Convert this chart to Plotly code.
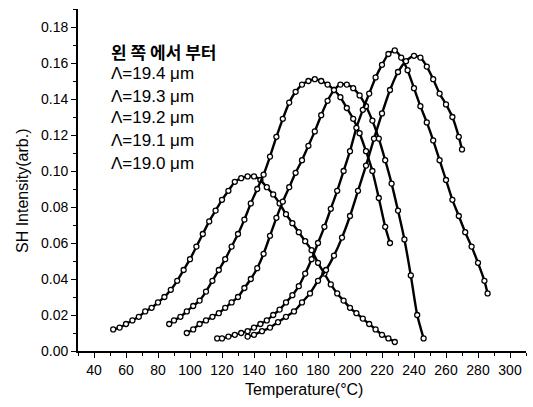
import plotly.graph_objects as go

# ---- data (Temperature in °C, SH intensity in arb. units) ----
temp_a = [52, 56, 60, 64, 68, 72, 76, 80, 84, 88, 92, 96, 100, 104, 108, 112, 116, 120, 124, 128,
          132, 136, 140, 144, 148, 152, 156, 160, 164, 168, 172, 176, 180, 184, 188, 192, 196, 200,
          204, 208, 212, 216, 220, 224, 228]
sh_a = [0.012, 0.013, 0.015, 0.017, 0.019, 0.022, 0.024, 0.027, 0.030, 0.034, 0.039, 0.045, 0.051,
        0.058, 0.065, 0.072, 0.078, 0.084, 0.089, 0.094, 0.096, 0.097, 0.097, 0.095, 0.091, 0.087,
        0.082, 0.076, 0.071, 0.066, 0.061, 0.056, 0.049, 0.043, 0.037, 0.032, 0.028, 0.024, 0.021,
        0.018, 0.015, 0.012, 0.009, 0.007, 0.005]

temp_b = [87, 90, 94, 98, 102, 106, 110, 114, 118, 122, 126, 130, 134, 138, 142, 146, 150, 154, 158,
          162, 166, 170, 174, 178, 182, 186, 190, 194, 198, 202, 206, 210, 214, 218, 222, 225]
sh_b = [0.015, 0.017, 0.019, 0.022, 0.025, 0.028, 0.033, 0.039, 0.045, 0.051, 0.058, 0.065, 0.073,
        0.082, 0.090, 0.098, 0.108, 0.119, 0.129, 0.138, 0.144, 0.148, 0.150, 0.151, 0.150, 0.148,
        0.145, 0.141, 0.135, 0.129, 0.121, 0.111, 0.100, 0.085, 0.069, 0.060]

temp_c = [98, 102, 106, 110, 114, 118, 122, 126, 130, 134, 138, 142, 146, 150, 154, 158, 162, 166,
          170, 174, 178, 182, 186, 190, 194, 198, 202, 206, 210, 214, 218, 222, 226, 230, 234, 238,
          242, 246]
sh_c = [0.010, 0.012, 0.015, 0.017, 0.019, 0.021, 0.024, 0.027, 0.030, 0.035, 0.040, 0.046, 0.054,
        0.064, 0.074, 0.083, 0.091, 0.099, 0.106, 0.114, 0.122, 0.131, 0.139, 0.145, 0.148, 0.148,
        0.146, 0.142, 0.136, 0.128, 0.118, 0.106, 0.093, 0.078, 0.062, 0.042, 0.020, 0.007]

temp_d = [117, 120, 124, 128, 132, 136, 140, 144, 148, 152, 156, 160, 164, 168, 172, 176, 180, 184,
          188, 192, 196, 200, 204, 208, 212, 216, 220, 224, 228, 232, 236, 240, 244, 248, 252, 256,
          260, 264, 268, 272, 276, 280, 284, 286]
sh_d = [0.007, 0.007, 0.008, 0.009, 0.010, 0.011, 0.013, 0.015, 0.017, 0.020, 0.023, 0.027, 0.031,
        0.036, 0.043, 0.051, 0.060, 0.069, 0.079, 0.089, 0.100, 0.111, 0.124, 0.134, 0.143, 0.152,
        0.159, 0.165, 0.167, 0.163, 0.156, 0.146, 0.136, 0.127, 0.117, 0.106, 0.095, 0.084, 0.075,
        0.066, 0.058, 0.049, 0.039, 0.032]

temp_e = [136, 140, 145, 150, 155, 160, 165, 170, 175, 180, 185, 190, 195, 200, 205, 210, 215, 220,
          225, 230, 235, 240, 244, 248, 252, 256, 260, 264, 268, 270]
sh_e = [0.008, 0.009, 0.011, 0.013, 0.016, 0.019, 0.022, 0.027, 0.032, 0.039, 0.045, 0.053, 0.063,
        0.075, 0.089, 0.103, 0.118, 0.132, 0.145, 0.155, 0.161, 0.164, 0.163, 0.158, 0.151, 0.143,
        0.137, 0.130, 0.119, 0.112]

series_temps = [temp_a, temp_b, temp_c, temp_d, temp_e]
series_sh = [sh_a, sh_b, sh_c, sh_d, sh_e]

legend_title = "왼 쪽 에서 부터"
legend_lines = ["Λ=19.4 μm", "Λ=19.3 μm", "Λ=19.2 μm", "Λ=19.1 μm", "Λ=19.0 μm"]

x_ticks = list(range(40, 301, 20))
y_ticks = [0.00, 0.02, 0.04, 0.06, 0.08, 0.10, 0.12, 0.14, 0.16, 0.18]

# ---- layout geometry (pixels) ----
W, H = 533, 407
ML, MR, MT, MB = 78, 7, 9, 56
PW, PH = W - ML - MR, H - MT - MB


def px_x(px):
    return (px - ML) / PW


def px_y(py):
    return (H - MB - py) / PH


fig = go.Figure()
for t, v in zip(series_temps, series_sh):
    fig.add_trace(go.Scatter(
        x=t, y=v, mode="lines+markers",
        line=dict(color="black", width=2.4, shape="spline", smoothing=0.6),
        marker=dict(symbol="circle", size=5, color="white",
                    line=dict(color="black", width=1.3)),
        showlegend=False, hoverinfo="skip", cliponaxis=False,
    ))

font_main = "Arial, Liberation Sans, Helvetica, sans-serif"

annotations = [
    dict(text="Temperature(°C)", x=px_x(304), y=px_y(390), xref="paper", yref="paper",
         showarrow=False, font=dict(size=16, color="black", family=font_main),
         xanchor="center", yanchor="middle"),
    dict(text="SH Intensity(arb.)", x=px_x(22), y=px_y(191), xref="paper", yref="paper",
         showarrow=False, textangle=-90, font=dict(size=16, color="black", family=font_main),
         xanchor="center", yanchor="middle"),
    dict(text="<b>" + legend_title + "</b>", x=px_x(109), y=px_y(51), xref="paper", yref="paper",
         showarrow=False, font=dict(size=17, color="black", family="Noto Sans CJK KR"),
         xanchor="left", yanchor="middle"),
]
line_centers = [73, 96, 118, 140, 163]
for txt, cy in zip(legend_lines, line_centers):
    annotations.append(dict(text=txt, x=px_x(109), y=px_y(cy), xref="paper", yref="paper",
                            showarrow=False, font=dict(size=17, color="black", family=font_main),
                            xanchor="left", yanchor="middle"))

fig.update_layout(
    width=W, height=H,
    margin=dict(l=ML, r=MR, t=MT, b=MB, pad=0, autoexpand=False),
    paper_bgcolor="white", plot_bgcolor="white",
    annotations=annotations,
    xaxis=dict(
        range=[30, 310], tickvals=x_ticks, ticktext=[str(v) for v in x_ticks],
        ticks="outside", ticklen=5, tickwidth=1.2, tickcolor="black", automargin=False,
        minor=dict(dtick=10, tick0=30, ticks="outside", ticklen=3, tickcolor="black", tickwidth=1),
        showline=True, linecolor="black", linewidth=1.8, showgrid=False, zeroline=False,
        tickfont=dict(size=14, color="black", family=font_main),
    ),
    yaxis=dict(
        range=[0, 0.19], tickvals=y_ticks, ticktext=["%.2f" % v for v in y_ticks],
        ticks="outside", ticklen=5, tickwidth=1.2, tickcolor="black", automargin=False,
        minor=dict(dtick=0.01, tick0=0, ticks="outside", ticklen=3, tickcolor="black", tickwidth=1),
        showline=True, linecolor="black", linewidth=1.8, showgrid=False, zeroline=False,
        tickfont=dict(size=14, color="black", family=font_main),
    ),
)

fig.write_html("out.html", config={"displayModeBar": False},
               post_script="document.body.style.margin='0';")
